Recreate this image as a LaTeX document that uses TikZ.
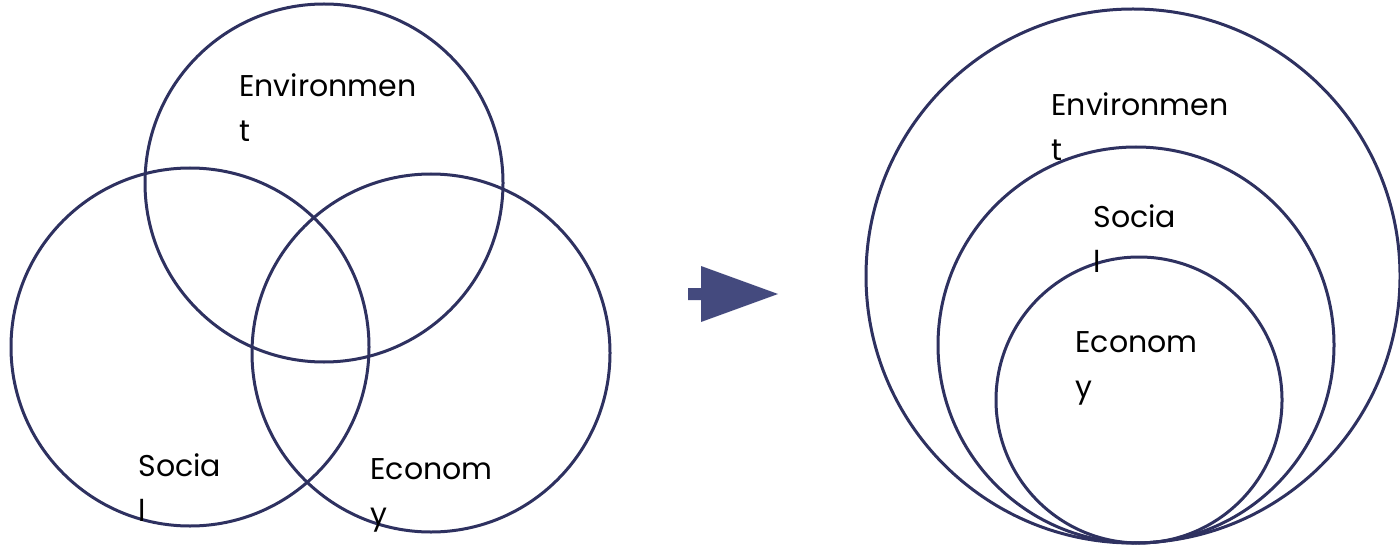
\documentclass[tikz,border=0pt]{standalone}
\usepackage{fontspec}
\setmainfont{Poppins}
\definecolor{ringcol}{HTML}{2E3160}
\definecolor{arrowcol}{HTML}{444A7E}
\tikzset{x=0.5pt, y=-0.5pt,
    ring/.style={circle, draw=ringcol, line width=1.5pt, inner sep=0pt},
    label/.style={anchor=base west, align=left, inner sep=0pt, font=\fontsize{15}{22.5}\selectfont}}

\begin{document}
\begin{tikzpicture}
    \useasboundingbox (0,0) rectangle (1400,545);
    % overlapping circles
    \node[ring, minimum size=179pt] (env) at (324,183) {};
    \node[ring, minimum size=179pt] (soc) at (190,347) {};
    \node[ring, minimum size=179pt] (eco) at (431,353) {};
    \node[label] (envtxt) at (239,142) {Environmen\\t};
    \node[label] (soctxt) at (138,521) {Socia\\l};
    \node[label] (ecotxt) at (370,524) {Econom\\y};
    % arrow
    \fill[arrowcol] (688,288) -- (701,288) -- (701,266) -- (778,294)
        -- (701,322) -- (701,300) -- (688,300) -- cycle;
    % nested circles
    \node[ring, minimum size=267pt] (envbig) at (1133,276) {};
    \node[ring, minimum size=198pt] (socmid) at (1136,345) {};
    \node[ring, minimum size=143pt] (ecosml) at (1139,400) {};
    \node[label] (envbigtxt) at (1051,161) {Environmen\\t};
    \node[label] (socmidtxt) at (1093,272) {Socia\\l};
    \node[label] (ecosmltxt) at (1075,397) {Econom\\y};
\end{tikzpicture}
\end{document}
